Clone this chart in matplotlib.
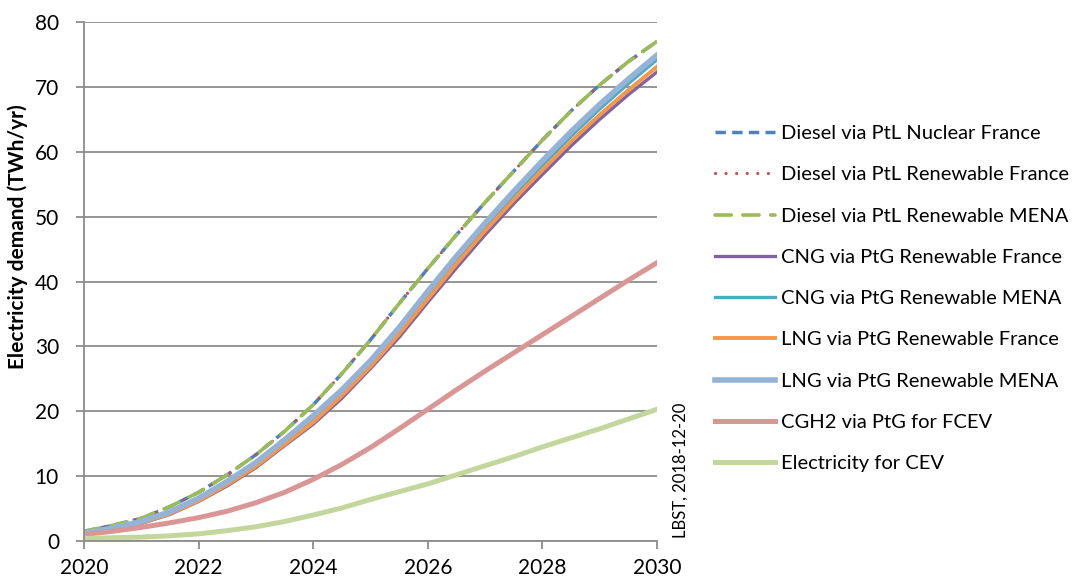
import matplotlib
matplotlib.use("Agg")
import matplotlib.pyplot as plt

# half-year points
years = [2020.0, 2020.5, 2021.0, 2021.5, 2022.0, 2022.5, 2023.0, 2023.5, 2024.0, 2024.5,
         2025.0, 2025.5, 2026.0, 2026.5, 2027.0, 2027.5, 2028.0, 2028.5, 2029.0, 2029.5,
         2030.0]

diesel_nuclear_fr = [1.5, 2.4, 3.5, 5.3, 7.5, 10.2, 13.3, 16.9, 21.0, 25.8,
                     31.0, 36.6, 42.0, 47.2, 52.2, 57.0, 61.8, 66.3, 70.3, 73.9, 77.0]
diesel_renew_fr = [1.5, 2.4, 3.5, 5.3, 7.5, 10.2, 13.3, 16.9, 21.0, 25.8,
                   31.0, 36.6, 42.0, 47.2, 52.2, 57.0, 61.8, 66.3, 70.3, 73.9, 77.0]
diesel_renew_mena = [1.5, 2.4, 3.5, 5.3, 7.5, 10.2, 13.3, 16.9, 21.0, 25.8,
                     31.0, 36.6, 42.0, 47.2, 52.2, 57.0, 61.8, 66.3, 70.3, 73.9, 77.0]
cng_renew_fr = [1.1, 1.8, 2.7, 4.1, 6.1, 8.5, 11.3, 14.7, 18.0, 22.0,
                26.6, 31.4, 36.8, 42.1, 47.2, 52.0, 56.5, 60.9, 65.0, 68.8, 72.3]
cng_renew_mena = [1.2, 2.0, 2.9, 4.4, 6.4, 9.0, 11.9, 15.3, 18.9, 22.9,
                  27.5, 32.4, 37.9, 43.3, 48.4, 53.3, 57.9, 62.4, 66.6, 70.5, 74.2]
lng_renew_fr = [1.1, 1.9, 2.8, 4.2, 6.2, 8.7, 11.5, 14.9, 18.3, 22.4,
                26.9, 31.9, 37.3, 42.7, 47.8, 52.6, 57.2, 61.6, 65.7, 69.5, 73.1]
lng_renew_mena = [1.2, 2.0, 3.0, 4.5, 6.6, 9.2, 12.1, 15.6, 19.3, 23.3,
                  27.8, 32.9, 38.5, 43.9, 49.0, 53.9, 58.6, 63.1, 67.3, 71.2, 74.9]
cgh2_fcev = [1.0, 1.5, 2.1, 2.8, 3.6, 4.6, 5.9, 7.5, 9.5, 11.8,
             14.4, 17.3, 20.3, 23.3, 26.2, 29.0, 31.8, 34.6, 37.4, 40.2, 42.9]
elec_cev = [0.4, 0.5, 0.6, 0.8, 1.1, 1.6, 2.2, 3.0, 4.0, 5.1,
            6.4, 7.6, 8.8, 10.2, 11.6, 13.0, 14.5, 15.9, 17.3, 18.8, 20.3]

labels = [
    "Diesel via PtL Nuclear France",
    "Diesel via PtL Renewable France",
    "Diesel via PtL Renewable MENA",
    "CNG via PtG Renewable France",
    "CNG via PtG Renewable MENA",
    "LNG via PtG Renewable France",
    "LNG via PtG Renewable MENA",
    "CGH2 via PtG for FCEV",
    "Electricity for CEV",
]

plt.rcParams["font.family"] = ["Lato", "DejaVu Sans"]

fig = plt.figure(figsize=(10.83, 5.8), dpi=100)
ax = fig.add_axes([84 / 1083, 1 - 541 / 580, 573 / 1083, 519 / 580])

GRID = "#8c8c8c"

# diesel lines (dashed / dotted / long dash)
ax.plot(years, diesel_nuclear_fr, color="#4f81bd", lw=2.5,
        dashes=(3.0, 1.8), dash_capstyle="butt", label=labels[0])
ax.plot(years, diesel_renew_fr, color="#c0504d", lw=2.3,
        dashes=(0.01, 3.3), dash_capstyle="round", label=labels[1])
ax.plot(years, diesel_renew_mena, color="#9bbb59", lw=2.6,
        dashes=(4.5, 3.2), dash_capstyle="round", label=labels[2])

# gas / hydrogen / electricity lines
ax.plot(years, cng_renew_fr, color="#8064a2", lw=2.4, label=labels[3])
ax.plot(years, cng_renew_mena, color="#4bacc6", lw=2.4, label=labels[4])
ax.plot(years, lng_renew_fr, color="#f79646", lw=2.8, label=labels[5])
ax.plot(years, lng_renew_mena, color="#95b3d7", lw=4.0, label=labels[6])
ax.plot(years, cgh2_fcev, color="#d99694", lw=3.6, label=labels[7])
ax.plot(years, elec_cev, color="#c3d69b", lw=3.6, label=labels[8])

ax.set_xlim(2020, 2030)
ax.set_ylim(0, 80)
ax.set_xticks([2020, 2022, 2024, 2026, 2028, 2030])
ax.set_yticks(range(0, 81, 10))
ax.yaxis.grid(True, color=GRID, lw=1.3)
ax.set_axisbelow(True)

for s in ["top", "right"]:
    ax.spines[s].set_visible(False)
for s in ["left", "bottom"]:
    ax.spines[s].set_color(GRID)
    ax.spines[s].set_linewidth(1.3)

ax.tick_params(axis="both", colors=GRID, labelcolor="black", labelsize=15,
               length=6, width=1.3)
ax.tick_params(axis="x", pad=6.5)
ax.tick_params(axis="y", pad=12)

fig.text(18 / 1083, 1 - 237 / 580, "Electricity demand (TWh/yr)",
         rotation=90, ha="center", va="center", fontsize=15, fontweight="bold")
fig.text(681 / 1083, 1 - 470 / 580, "LBST, 2018-12-20",
         rotation=90, ha="center", va="center", fontsize=12)

h, l = ax.get_legend_handles_labels()
fig.legend(h, l, loc="upper left", bbox_to_anchor=(715 / 1083, 1 - 125 / 580),
           frameon=False, fontsize=14.5, handlelength=3.0, handletextpad=0.3,
           labelspacing=1.2, borderpad=0, borderaxespad=0)

fig.savefig("out.png", dpi=100)
